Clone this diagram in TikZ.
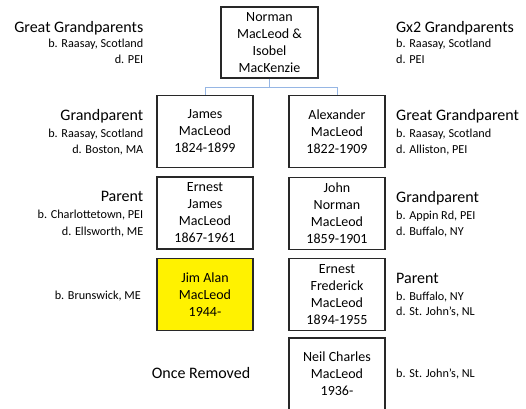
\documentclass[tikz,border=0pt]{standalone}
\usepackage{fontspec}
\setmainfont{Carlito}
\definecolor{linkblue}{RGB}{150,182,228}
\definecolor{boxline}{RGB}{40,40,40}
\tikzset{
  person/.style={draw=boxline, line width=1.1pt, minimum width=96pt, minimum height=72pt,
    inner sep=0pt, align=center, font=\fontsize{14}{17}\selectfont},
  link/.style={draw=linkblue, line width=1pt},
  gen/.style={inner sep=0pt, font=\fontsize{16}{19}\selectfont},
  place/.style={inner sep=0pt, font=\fontsize{12.2}{15}\selectfont},
  lft/.style={anchor=base east},
  rgt/.style={anchor=base west}
}
\begin{document}
\begin{tikzpicture}[x=1pt,y=-1pt]
\clip (0,0) rectangle (526,408);
\fill[white] (0,0) rectangle (526,408);

% family boxes
\node[person, minimum width=97pt, minimum height=71pt] (norman) at (269.5,42.5) {Norman\\MacLeod \&\\Isobel\\MacKenzie};
\node[person] (james) at (205,131.5) {James\\MacLeod\\1824-1899};
\node[person] (ernestj) at (205,213) {Ernest\\James\\MacLeod\\1867-1961};
\node[person, fill=yellow] (jim) at (205,294.5) {Jim Alan\\MacLeod\\1944-};
\node[person] (alex) at (337,131.5) {Alexander\\MacLeod\\1822-1909};
\node[person] (john) at (337,213.5) {John\\Norman\\MacLeod\\1859-1901};
\node[person] (ernestf) at (337,294.5) {Ernest\\Frederick\\MacLeod\\1894-1955};
\node[person] (neil) at (337,374) {Neil Charles\\MacLeod\\1936-};

% links from the common ancestors
\coordinate (fork) at ([yshift=-9pt]norman.south);
\draw[link] (norman.south) -- (fork) -| (james.north);
\draw[link] (fork) -| (alex.north);

% left-hand generation labels
\node[gen, lft] (lg1) at (143.5,32) {Great Grandparents};
\node[place, lft] (lg1b) at (143.5,47.5) {b. Raasay, Scotland};
\node[place, lft] (lg1d) at (143.5,63.3) {d. PEI};
\node[gen, lft] (lg2) at (143.5,120.7) {Grandparent};
\node[place, lft] (lg2b) at (143.5,137.7) {b. Raasay, Scotland};
\node[place, lft] (lg2d) at (143.5,153.3) {d. Boston, MA};
\node[gen, lft] (lg3) at (143.5,201.7) {Parent};
\node[place, lft] (lg3b) at (143.5,218.3) {b. Charlottetown, PEI};
\node[place, lft] (lg3d) at (143.5,235) {d. Ellsworth, ME};
\node[place, lft] (lg4b) at (141,299) {b. Brunswick, ME};
\node[gen, anchor=base] (once) at (201,378.3) {Once Removed};

% right-hand generation labels
\node[gen, rgt] (rg1) at (396,32) {Gx2 Grandparents};
\node[place, rgt] (rg1b) at (396,47) {b. Raasay, Scotland};
\node[place, rgt] (rg1d) at (396,63.3) {d. PEI};
\node[gen, rgt] (rg2) at (396,120.7) {Great Grandparent};
\node[place, rgt] (rg2b) at (396,137.7) {b. Raasay, Scotland};
\node[place, rgt] (rg2d) at (396,153.3) {d. Alliston, PEI};
\node[gen, rgt] (rg3) at (396,202.7) {Grandparent};
\node[place, rgt] (rg3b) at (396,219.3) {b. Appin Rd, PEI};
\node[place, rgt] (rg3d) at (396,235) {d. Buffalo, NY};
\node[gen, rgt] (rg4) at (396,283.3) {Parent};
\node[place, rgt] (rg4b) at (396,300) {b. Buffalo, NY};
\node[place, rgt] (rg4d) at (396,315.7) {d. St. John’s, NL};
\node[place, rgt] (rg5b) at (396,377.7) {b. St. John’s, NL};
\end{tikzpicture}
\end{document}
